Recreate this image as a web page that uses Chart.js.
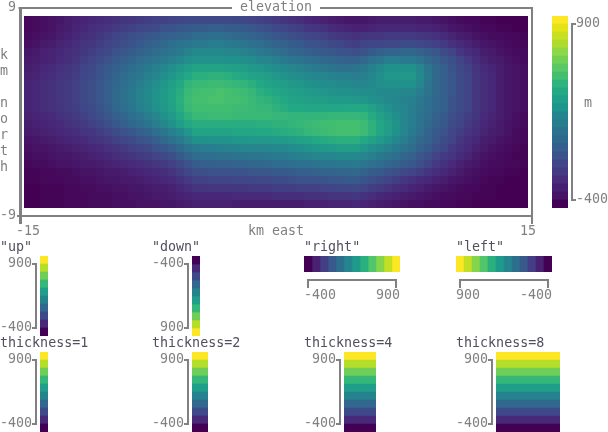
<!DOCTYPE html>
<html>
<head>
<meta charset="utf-8">
<style>
html,body{margin:0;padding:0;background:#fff;width:608px;height:432px;overflow:hidden}
#stage{position:relative;width:608px;height:432px}
canvas{position:absolute;left:0;top:0}
</style>
<script src="https://cdn.jsdelivr.net/npm/chart.js@4"></script>
</head>
<body>
<div id="stage"></div>
<script>
const mainTitle = "elevation";
const xTitle = "km east";
const yTitleLetters = ["k","m","","n","o","r","t","h"];
const barUnit = "m";
const xTicks = [-15, 15];
const yTicks = [-9, 9];
const barTicks = [-400, 900];
const valueMin = -400, valueMax = 900;

const viridisStops = ["#440154","#482475","#414487","#355f8d","#2a788e","#21918c","#22a884","#44bf70","#7ad151","#bddf26","#fde725"];

const palette10 = ["#440154","#482878","#3e4989","#31688e","#26828e","#1f9e89","#35b779","#6ece58","#b5de2b","#fde725"];
const palette12 = ["#440154","#482173","#433e85","#38598c","#2d708e","#25858e","#1e9b8a","#2ab07f","#51c56a","#85d54a","#c2df23","#fde725"];
const palette24 = ["#440154","#471365","#482071","#472d7b","#443a83","#404688","#3b528b","#355f8d","#31688e","#2c728e","#297b8e","#25858e","#1f968b","#1fa088","#23a983","#2fb47c","#43bf71","#5bc864","#73d056","#8fd744","#addc30","#c8e020","#e3e418","#fde725"];

const edges10 = [-562.5,-400,-237.5,-75,87.5,250,412.5,575,737.5,900,1062.5];
const edges12 = [-459.09,-340.91,-222.73,-104.55,13.64,131.82,250,368.18,486.36,604.55,722.73,840.91,959.09];
const edges24 = [-459.09,-400,-340.91,-281.82,-222.73,-163.64,-104.55,-45.45,13.64,72.73,131.82,190.91,250,309.09,368.18,427.27,486.36,545.45,604.55,663.64,722.73,781.82,840.91,900,959.09];

// Elevation, as percent of the way from valueMin to valueMax; one row per half text line, north first.
const elevationPercent = [
[2,3,4, 5,6,8, 9,10,11, 12,13,14, 15,16,17, 18,19,19, 20,21,22, 22,22,22, 22,22,21, 21,20,19, 18,17,15, 14,13,11, 10,9,8, 7,6,6, 6,7,8, 8,8,8, 8,7,7, 6,5,4, 3,2,2, 1,1,0, 0,0,0],
[2,3,4, 5,7,8, 10,11,13, 14,15,17, 18,19,21, 22,23,25, 26,27,28, 29,29,30, 30,29,29, 28,27,25, 24,22,21, 19,18,16, 15,14,12, 11,10,9, 9,10,11, 11,11,11, 11,10,10, 9,8,6, 5,4,3, 2,2,1, 1,0,0],
[3,4,5, 6,8,9, 11,13,14, 16,18,20, 22,24,25, 27,28,30, 31,32,33, 35,35,36, 36,35,34, 33,32,30, 29,27,26, 24,23,21, 20,19,17, 16,15,14, 15,16,16, 17,17,17, 17,16,15, 14,12,10, 8,7,5, 4,3,3, 2,2,1],
[4,5,7, 8,10,11, 13,15,16, 18,20,22, 24,26,28, 30,32,34, 36,38,39, 41,41,42, 42,41,40, 39,37,36, 34,32,31, 29,28,26, 25,24,22, 21,19,18, 20,21,21, 22,22,23, 23,22,20, 19,17,14, 12,10,8, 6,5,4, 3,2,2],
[6,7,9, 10,11,13, 14,16,18, 20,22,25, 27,29,31, 33,35,37, 39,41,44, 47,47,47, 47,46,45, 44,42,41, 39,37,35, 33,32,30, 29,28,27, 26,25,24, 26,28,30, 32,32,33, 33,31,29, 27,23,20, 16,13,11, 8,7,5, 4,3,3],
[7,8,9, 10,12,13, 15,18,20, 23,25,28, 30,32,35, 37,39,41, 43,46,49, 51,51,51, 51,50,50, 49,48,46, 45,43,41, 39,38,36, 35,34,33, 32,31,31, 34,37,39, 42,42,41, 41,38,34, 31,27,24, 20,17,13, 10,8,7, 5,4,3],
[8,9,11, 12,14,15, 17,20,22, 25,28,30, 33,35,38, 40,43,46, 49,52,55, 58,58,58, 58,57,56, 55,53,52, 50,48,47, 45,44,42, 41,40,38, 37,37,38, 40,43,47, 50,50,50, 50,45,39, 34,30,26, 22,19,15, 12,10,8, 6,5,4],
[9,10,12, 13,15,16, 18,21,23, 26,29,32, 35,38,40, 43,46,49, 52,56,60, 63,63,64, 64,63,61, 60,58,57, 55,53,51, 49,48,47, 46,45,44, 43,43,42, 43,46,49, 52,52,53, 53,47,40, 34,30,27, 23,20,16, 13,11,8, 6,5,4],
[10,11,13, 14,16,17, 19,22,24, 27,30,33, 36,39,42, 45,49,52, 56,60,65, 67,67,68, 68,67,66, 65,63,60, 58,56,55, 53,52,50, 49,48,48, 47,47,46, 46,47,49, 50,50,50, 50,45,39, 34,30,27, 23,20,16, 13,11,8, 6,5,4],
[10,11,13, 14,16,17, 19,22,24, 27,30,34, 37,40,44, 47,51,54, 58,62,67, 69,70,70, 71,70,69, 68,66,63, 61,59,58, 56,55,54, 53,52,51, 50,50,49, 48,48,47, 47,47,46, 46,42,38, 34,30,27, 23,20,16, 13,11,8, 6,5,4],
[10,11,13, 14,16,17, 19,22,24, 27,30,34, 37,40,44, 47,51,54, 58,63,68, 70,70,71, 71,70,70, 69,67,65, 64,62,60, 58,57,56, 55,55,54, 54,54,53, 52,50,49, 47,46,44, 43,40,36, 33,30,26, 23,20,16, 13,11,8, 6,5,4],
[10,11,13, 14,15,17, 18,21,23, 26,29,33, 36,39,43, 46,50,53, 57,62,67, 69,69,69, 69,69,68, 68,67,66, 66,64,62, 60,60,59, 59,59,59, 59,60,60, 60,57,53, 50,47,45, 42,39,36, 33,30,26, 23,20,16, 13,11,8, 6,5,4],
[9,10,11, 12,14,15, 17,19,22, 24,27,30, 33,36,39, 42,46,50, 54,59,64, 67,67,68, 68,68,67, 67,67,67, 67,66,66, 65,65,65, 65,65,66, 66,66,66, 65,61,57, 53,49,46, 42,38,35, 31,28,24, 21,18,15, 12,10,8, 6,4,3],
[8,9,10, 11,12,14, 15,17,19, 21,24,27, 30,33,35, 38,42,46, 50,55,60, 62,62,62, 62,62,62, 62,62,63, 63,64,64, 65,66,67, 68,69,69, 70,70,70, 68,64,59, 55,51,46, 42,38,34, 30,27,23, 20,17,14, 11,9,7, 5,4,3],
[7,8,9, 10,11,12, 13,15,16, 18,20,23, 25,27,30, 32,36,39, 43,47,52, 58,58,58, 58,58,59, 59,59,60, 60,61,62, 63,64,66, 67,68,69, 70,70,70, 68,64,59, 55,50,46, 41,37,32, 28,25,21, 18,15,13, 10,8,7, 5,3,2],
[5,6,7, 8,9,10, 11,12,14, 15,17,19, 21,23,25, 27,30,34, 37,41,45, 50,50,51, 51,51,52, 52,53,53, 53,54,54, 55,57,58, 60,61,62, 63,63,63, 60,57,54, 50,46,42, 38,34,31, 27,23,20, 16,13,11, 8,7,5, 4,3,2],
[4,5,5, 6,7,8, 9,10,11, 12,14,15, 17,19,20, 22,25,27, 30,34,38, 41,42,42, 43,44,44, 45,45,46, 46,47,47, 48,49,51, 52,53,54, 55,55,55, 52,49,47, 44,41,38, 35,31,28, 24,21,17, 14,12,9, 7,5,4, 3,2,1],
[3,4,4, 5,6,6, 7,8,9, 10,11,13, 14,15,17, 18,20,22, 24,28,32, 35,36,36, 37,37,38, 38,39,39, 40,41,41, 42,43,44, 45,46,46, 47,47,47, 45,43,40, 38,36,33, 31,27,24, 20,17,15, 12,10,7, 5,4,3, 2,1,1],
[2,3,3, 4,5,5, 6,7,7, 8,9,10, 11,12,13, 14,16,17, 19,22,26, 29,30,30, 31,31,32, 32,33,33, 34,35,35, 36,37,37, 38,39,39, 40,40,41, 39,37,35, 33,31,29, 27,24,20, 17,14,12, 9,7,6, 4,3,3, 2,2,1],
[1,1,2, 2,3,3, 4,5,5, 6,7,7, 8,9,10, 11,12,13, 15,18,21, 24,24,25, 25,25,26, 26,27,27, 27,28,28, 29,30,30, 31,32,32, 33,33,34, 31,29,28, 26,24,22, 20,18,15, 13,11,9, 7,5,4, 3,2,2, 1,1,0],
[1,1,2, 2,2,3, 3,4,4, 5,6,6, 7,7,8, 9,10,11, 12,14,17, 19,19,20, 20,20,21, 21,21,22, 22,23,23, 24,25,25, 26,26,27, 27,28,28, 26,24,22, 20,18,16, 14,12,11, 9,8,6, 5,4,3, 2,1,1, 0,0,0],
[0,0,1, 1,1,2, 2,3,3, 4,4,5, 5,6,6, 7,8,8, 9,11,13, 15,15,16, 16,16,16, 16,17,17, 17,18,18, 18,19,19, 19,20,20, 21,21,22, 20,18,17, 15,13,12, 10,9,7, 6,5,4, 3,2,2, 1,1,0, 0,0,0],
[0,0,1, 1,1,2, 2,2,3, 3,3,4, 4,5,5, 6,7,7, 8,9,10, 11,11,11, 11,11,12, 12,12,12, 12,13,13, 13,13,14, 14,14,15, 15,15,16, 14,13,11, 10,9,8, 7,6,5, 4,3,3, 2,2,1, 1,1,0, 0,0,0],
[0,0,1, 1,1,2, 2,2,3, 3,3,4, 4,4,5, 5,5,6, 6,7,8, 9,9,9, 9,9,8, 8,8,8, 8,8,8, 8,8,9, 9,9,10, 10,10,11, 10,9,8, 7,6,5, 4,4,3, 3,2,2, 1,1,0, 0,0,0, 0,0,0]
];

const FONT = "'DejaVu Sans Mono', monospace";
const GRAY = "#808080";
const DARK = "#50505f";
const tickFont = {family: FONT, size: 13.33, weight: "normal", lineHeight: "16px"};
const noGrid = {display: false, drawTicks: false};

function hex(c){return [1,3,5].map(i=>parseInt(c.substr(i,2),16));}
function viridis(v){
  const t = Math.max(0, Math.min(1, (v - valueMin) / (valueMax - valueMin))) * (viridisStops.length - 1);
  const i = Math.min(Math.floor(t), viridisStops.length - 2), f = t - i;
  const a = hex(viridisStops[i]), b = hex(viridisStops[i + 1]);
  return "rgb(" + a.map((x, k) => Math.round(x + (b[k] - x) * f)).join(",") + ")";
}
function newCanvas(){
  const c = document.createElement("canvas");
  c.width = 608; c.height = 432;
  c.style.width = "608px"; c.style.height = "432px";
  document.getElementById("stage").appendChild(c);
  return c;
}
function line(ctx, x0, y0, x1, y1, w){
  ctx.fillStyle = GRAY;
  if (y0 === y1) ctx.fillRect(Math.min(x0,x1), y0 - (w||2)/2, Math.abs(x1-x0), w||2);
  else ctx.fillRect(x0 - (w||2)/2, Math.min(y0,y1), w||2, Math.abs(y1-y0));
}
// Fixes an axis box to an exact size and drops the room it would reserve for its outer labels.
function fixBox(scale, size){
  if (scale.isHorizontal()) scale.height = size; else scale.width = size;
  scale.paddingTop = scale.paddingBottom = scale.paddingLeft = scale.paddingRight = 0;
}

// Moves the outermost labels of inner-aligned horizontal axes out onto the character grid.
const nudgePlugin = {
  id: "nudge",
  beforeDraw(chart){
    for (const id of Object.keys(chart.scales)) {
      const s = chart.scales[id];
      if (!s.options.display || !s.isHorizontal() || !s.options.ticks.display) continue;
      for (const item of s.getLabelItems(chart.chartArea)) {
        if (item.options.textAlign === "left") item.options.translation[0] -= 4;
        if (item.options.textAlign === "right") item.options.translation[0] += 4;
      }
    }
  }
};

// Bracket axis line of a colour bar, run between its two tick values.
const bracketPlugin = {
  id: "bracket",
  afterDraw(chart, args, opts){
    if (!opts.side) return;
    const ctx = chart.ctx, a = chart.chartArea;
    if (opts.side === "bottom") {
      const s = chart.scales.x, p0 = s.getPixelForValue(barTicks[0]), p1 = s.getPixelForValue(barTicks[1]);
      const y = a.bottom + 8;
      line(ctx, Math.min(p0,p1) - 1, y, Math.max(p0,p1) + 1, y);
      line(ctx, p0, y, p0, y + 8);
      line(ctx, p1, y, p1, y + 8);
    } else {
      const s = chart.scales.y, p0 = s.getPixelForValue(barTicks[0]), p1 = s.getPixelForValue(barTicks[1]);
      const left = opts.side === "left";
      const x = left ? a.left - 4 : a.right + 4, d = left ? -4 : 4;
      line(ctx, x, Math.min(p0,p1) - 1, x, Math.max(p0,p1) + 1);
      line(ctx, left ? x + 1 : x - 1, p0, x + d, p0);
      line(ctx, left ? x + 1 : x - 1, p1, x + d, p1);
    }
  }
};

// Frame, ticks and stacked y title of the elevation panel.
const framePlugin = {
  id: "frame",
  afterDraw(chart, args, opts){
    if (!opts.on) return;
    const ctx = chart.ctx, sx = chart.scales.x, sy = chart.scales.y;
    const L = sx.getPixelForValue(xTicks[0]), R = sx.getPixelForValue(xTicks[1]);
    const B = sy.getPixelForValue(yTicks[0]), T = sy.getPixelForValue(yTicks[1]);
    const cx = (L + R) / 2;
    line(ctx, L - 1.5, T, cx - 44, T);
    line(ctx, cx + 44, T, R + 1, T);
    line(ctx, L - 3, B, R + 1, B);
    line(ctx, L + 0.5, T - 1, L + 0.5, B + 8, 3);
    line(ctx, R, T - 1, R, B + 8);
    ctx.fillStyle = GRAY;
    ctx.font = "13.33px " + FONT;
    ctx.textAlign = "center";
    ctx.textBaseline = "middle";
    yTitleLetters.forEach((ch, i) => ctx.fillText(ch, 4, 56 + i * 16));
  }
};

const unitPlugin = {
  id: "unit",
  afterDraw(chart, args, opts){
    if (!opts.text) return;
    const ctx = chart.ctx, a = chart.chartArea;
    ctx.fillStyle = GRAY;
    ctx.font = "13.33px " + FONT;
    ctx.textAlign = "center";
    ctx.textBaseline = "middle";
    ctx.fillText(opts.text, a.right + 20, (a.top + a.bottom) / 2 - 8);
  }
};
Chart.register(nudgePlugin, bracketPlugin, framePlugin, unitPlugin);
Chart.defaults.font.family = FONT;
Chart.defaults.font.size = 13.33;
Chart.defaults.color = GRAY;

function fixedTicks(values){
  return function(scale){ scale.ticks = values.map(v => ({value: v})); };
}
function filler(width){
  return {type: "linear", position: "right", display: true,
    grid: noGrid, border: {display: false}, ticks: {display: false},
    afterFit(s){ fixBox(s, width); }};
}

/* ---------- elevation panel ---------- */
const heatPoints = [], heatColors = [];
elevationPercent.forEach((row, r) => row.forEach((p, c) => {
  const metres = valueMin + p / 100 * (valueMax - valueMin);
  heatPoints.push({x: -15 + (c + 1) * 30 / 64, y: 9 - (r + 1.5) * 18 / 26, v: metres});
  heatColors.push(viridis(metres));
}));

new Chart(newCanvas(), {
  type: "scatter",
  data: {datasets: [{
    label: "elevation", data: heatPoints, showLine: false, clip: false,
    pointStyle: "rect", pointRadius: 5.665, pointHoverRadius: 5.665, pointBorderWidth: 0,
    pointBackgroundColor: heatColors
  }]},
  options: {
    responsive: false, devicePixelRatio: 1, animation: false, events: [],
    layout: {autoPadding: false, padding: {left: 0, top: 0, right: 56, bottom: 192}},
    plugins: {
      legend: {display: false}, tooltip: {enabled: false},
      title: {display: true, text: mainTitle, color: GRAY, font: tickFont, padding: {top: 0, bottom: -8}},
      frame: {on: true}
    },
    scales: {
      x: {type: "linear", min: xTicks[0], max: xTicks[1], grid: noGrid, border: {display: false},
        afterBuildTicks: fixedTicks(xTicks), afterFit(s){ fixBox(s, 24); },
        ticks: {align: "inner", autoSkip: false, maxRotation: 0, padding: 8, font: tickFont, color: GRAY},
        title: {display: true, text: xTitle, color: GRAY, font: tickFont, padding: 0}},
      y: {type: "linear", min: yTicks[0], max: yTicks[1], grid: noGrid, border: {display: false},
        afterBuildTicks: fixedTicks(yTicks), afterFit(s){ fixBox(s, 20); },
        ticks: {autoSkip: false, padding: 4, font: tickFont, color: GRAY}},
      spacer: filler(20)
    }
  }
});

/* ---------- colour bars ---------- */
function colourBar(cfg){
  const horizontal = cfg.direction === "right" || cfg.direction === "left";
  const reverse = cfg.direction === "down" || cfg.direction === "left";
  const datasets = cfg.colors.map((col, i) => ({
    label: "level " + (i + 1),
    data: [[cfg.edges[i], cfg.edges[i + 1]]],
    backgroundColor: col, borderWidth: 0, grouped: false,
    barPercentage: 1, categoryPercentage: 1
  }));
  const value = {
    type: "linear", min: cfg.edges[0], max: cfg.edges[cfg.edges.length - 1], reverse: reverse,
    grid: noGrid, border: {display: false}, afterBuildTicks: fixedTicks(barTicks),
    ticks: {autoSkip: false, maxRotation: 0, font: tickFont, color: GRAY}
  };
  const cat = {type: "category", display: false, grid: {display: false}};
  const a = cfg.area, scales = {};
  const padding = {left: cfg.blockLeft, top: cfg.title ? a[1] - 16 : a[1], right: 0, bottom: 0};
  if (horizontal) {
    value.position = "bottom";
    value.ticks.align = "inner";
    value.ticks.padding = 16;
    value.afterFit = s => fixBox(s, 32);
    scales.x = value; scales.y = cat;
    padding.bottom = 432 - a[3] - 32;
    padding.right = 608 - a[2];
  } else {
    value.position = cfg.axisSide;
    value.ticks.padding = 8;
    const w = cfg.axisSide === "left" ? a[0] - cfg.blockLeft : 608 - a[2];
    value.afterFit = s => fixBox(s, w);
    scales.y = value; scales.x = cat;
    padding.bottom = 432 - a[3];
    if (cfg.axisSide === "left") {
      padding.right = 608 - (cfg.blockLeft + 152);
      scales.spacer = filler(cfg.blockLeft + 152 - a[2]);
    }
  }
  new Chart(newCanvas(), {
    type: "bar",
    data: {labels: ["bar"], datasets},
    options: {
      responsive: false, devicePixelRatio: 1, animation: false, events: [],
      indexAxis: horizontal ? "y" : "x",
      layout: {autoPadding: false, padding},
      plugins: {
        legend: {display: false}, tooltip: {enabled: false},
        title: {display: !!cfg.title, text: cfg.title || "", align: "start", color: DARK, font: tickFont, padding: 0},
        bracket: {side: horizontal ? "bottom" : cfg.axisSide},
        unit: {text: cfg.unit || ""}
      },
      scales
    }
  });
}

colourBar({direction: "up", axisSide: "right", blockLeft: 552, area: [552,16,568,208], colors: palette24, edges: edges24, unit: barUnit});
colourBar({title: '"up"', direction: "up", axisSide: "left", blockLeft: 0, area: [40,256,48,336], colors: palette10, edges: edges10});
colourBar({title: '"down"', direction: "down", axisSide: "left", blockLeft: 152, area: [192,256,200,336], colors: palette10, edges: edges10});
colourBar({title: '"right"', direction: "right", blockLeft: 304, area: [304,256,400,272], colors: palette12, edges: edges12});
colourBar({title: '"left"', direction: "left", blockLeft: 456, area: [456,256,552,272], colors: palette12, edges: edges12});
colourBar({title: "thickness=1", direction: "up", axisSide: "left", blockLeft: 0, area: [40,352,48,432], colors: palette10, edges: edges10});
colourBar({title: "thickness=2", direction: "up", axisSide: "left", blockLeft: 152, area: [192,352,208,432], colors: palette10, edges: edges10});
colourBar({title: "thickness=4", direction: "up", axisSide: "left", blockLeft: 304, area: [344,352,376,432], colors: palette10, edges: edges10});
colourBar({title: "thickness=8", direction: "up", axisSide: "left", blockLeft: 456, area: [496,352,560,432], colors: palette10, edges: edges10});
</script>
</body>
</html>
